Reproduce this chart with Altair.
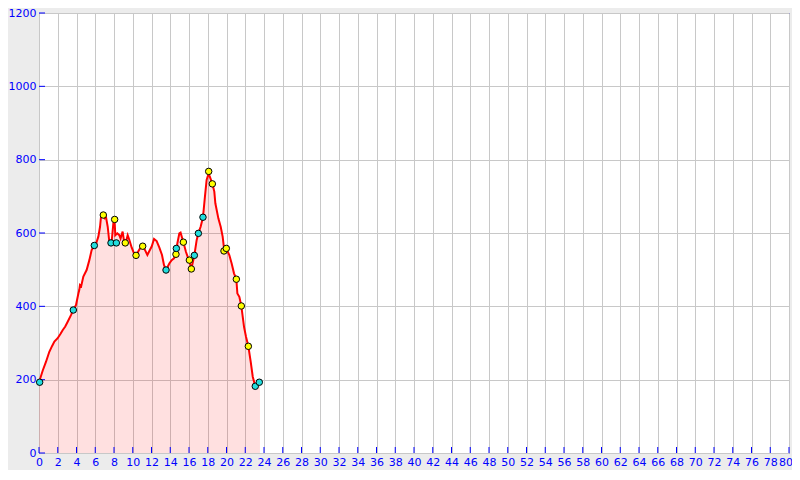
import altair as alt
import pandas as pd

# Elevation profile (distance km, elevation m)
dist = [0.0, 0.4, 0.75, 1.1, 1.4, 1.64, 1.99, 2.3, 2.52, 2.8, 3.06, 3.41, 3.66, 3.95,
        4.2, 4.3, 4.37, 4.5, 4.73, 5.08, 5.37, 5.62, 5.9, 6.1, 6.33, 6.51, 6.61, 6.86,
        7.0, 7.15, 7.33, 7.5, 7.75, 7.93, 8.05, 8.14, 8.35, 8.57, 8.7, 8.92, 9.06, 9.3,
        9.46, 9.64, 9.89, 10.13, 10.35, 10.77, 11.06, 11.3, 11.56, 11.77, 12.02, 12.27,
        12.55, 12.84, 13.12, 13.33, 13.55, 13.9, 14.15, 14.4, 14.61, 14.76, 14.97, 15.1,
        15.4, 15.68, 15.93, 16.1, 16.25, 16.46, 16.57, 16.82, 17.0, 17.24, 17.49, 17.7,
        17.88, 18.1, 18.2, 18.49, 18.7, 18.81, 19.13, 19.38, 19.59, 19.75, 19.98, 20.3,
        20.55, 20.8, 21.05, 21.16, 21.37, 21.58, 21.87, 22.08, 22.33, 22.58, 22.8, 23.07,
        23.3, 23.57]
elev = [193, 225, 249, 276, 292, 304, 313, 325, 335, 345, 358, 376, 390, 404,
        435, 445, 458, 455, 481, 499, 526, 554, 566, 572, 590, 617, 643, 645,
        640, 643, 617, 576, 576, 626, 640, 594, 599, 594, 585, 604, 580, 578,
        594, 581, 560, 545, 539, 558, 564, 554, 540, 551, 563, 584,
        578, 560, 540, 513, 499, 517, 526, 531, 542, 572, 599, 601,
        575, 548, 530, 518, 502, 526, 539, 581, 599, 617, 643, 699,
        745, 763, 755, 734, 713, 681, 640, 617, 590, 555, 558, 540,
        517, 490, 474, 435, 426, 401, 344, 317, 291, 249, 208, 182,
        188, 193]

# Waypoints
wp_x = [0.07, 3.66, 5.9, 6.86, 7.68, 8.07, 8.25, 9.2, 10.35, 11.06, 13.55, 14.61,
        14.65, 15.4, 16.04, 16.25, 16.57, 17.0, 17.49, 18.1, 18.49, 19.73, 19.98,
        21.05, 21.58, 22.33, 23.07, 23.5]
wp_y = [193, 390, 566, 649, 573, 637, 573, 573, 539, 564, 499, 542,
        558, 575, 526, 502, 539, 599, 643, 768, 734, 551, 558,
        474, 401, 291, 182, 193]
wp_kind = ["c", "c", "c", "y", "c", "y", "c", "y", "y", "y", "c", "y",
           "c", "y", "y", "y", "c", "c", "c", "y", "y", "y", "y",
           "y", "y", "y", "c", "c"]

x_ticks = list(range(0, 81, 2))
y_ticks = list(range(0, 1201, 200))

profile = pd.DataFrame({"d": dist, "e": elev})
wps = pd.DataFrame({"d": wp_x, "e": wp_y, "k": wp_kind})
xt = pd.DataFrame({"d": x_ticks})
yt = pd.DataFrame({"e": y_ticks})

BLUE = "#0000ff"
FONT = "DejaVu Sans"
xs = alt.Scale(domain=[0, 80], nice=False, zero=False)
ys = alt.Scale(domain=[0, 1200], nice=False)

x_axis = alt.Axis(values=x_ticks, grid=True, gridColor="#c8c8c8", gridWidth=1,
                  ticks=False, tickSize=0, domain=False, labelColor=BLUE,
                  labelFont=FONT, labelFontSize=11, labelPadding=3, title=None,
                  format="d", labelFlush=True, labelFlushOffset=3.5,
                  labelOverlap=False)
y_axis = alt.Axis(values=y_ticks, grid=True, gridColor="#c8c8c8", gridWidth=1,
                  ticks=False, tickSize=0, domain=False, labelColor=BLUE,
                  labelFont=FONT, labelFontSize=11, labelPadding=3, title=None,
                  format="d", labelFlush=False)

X = alt.X("d:Q", scale=xs, axis=x_axis)
Y = alt.Y("e:Q", scale=ys, axis=y_axis)

area = alt.Chart(profile).mark_area(color="#ff0000", opacity=0.12).encode(x=X, y=Y)
line = alt.Chart(profile).mark_line(color="#ff0000", strokeWidth=2).encode(x=X, y=Y)
xtick = alt.Chart(xt).mark_rule(color=BLUE, strokeWidth=1).encode(
    x=X, y=alt.value(434), y2=alt.value(440),
)
ytick = alt.Chart(yt).mark_rule(color=BLUE, strokeWidth=1).encode(
    y=Y, x=alt.value(0), x2=alt.value(6),
)
points = alt.Chart(wps).mark_point(filled=True, size=42, stroke="#000000",
                                   strokeWidth=1, opacity=1).encode(
    x=X, y=Y,
    fill=alt.Fill("k:N", scale=alt.Scale(domain=["c", "y"], range=["#22dddd", "#ffff00"]),
                  legend=None),
)

chart = alt.layer(area, xtick, ytick, line, points).properties(
    width=750, height=440,
    autosize=alt.AutoSizeParams(type="none"),
    padding={"left": 31, "top": 5, "right": 3, "bottom": 17},
    background="#ececec",
).configure_view(stroke=BLUE, strokeWidth=1, fill="#ffffff")

chart.save("out.html", embed_options={"renderer": "svg", "actions": False})
